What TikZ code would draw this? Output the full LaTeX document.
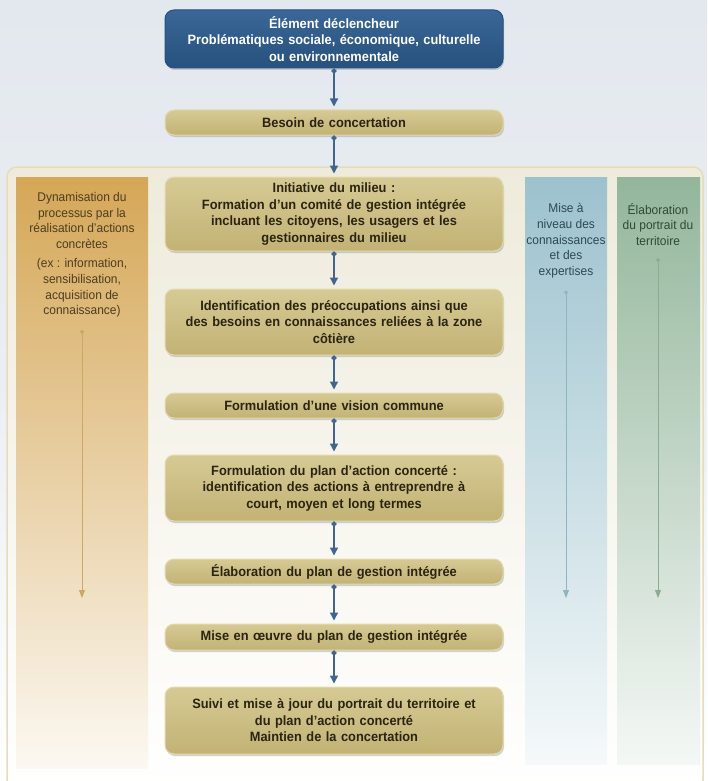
\documentclass[tikz,border=0pt]{standalone}
\usepackage{fontspec}
\setmainfont{Liberation Sans}[FakeStretch=0.95]
\usetikzlibrary{positioning}
\usetikzlibrary{arrows.meta}
\usetikzlibrary{shadows}
\definecolor{skyblue}{HTML}{E3E8EE}
\definecolor{panelfill}{HTML}{EEEBDB}
\definecolor{panelline}{HTML}{E4DDB9}
\definecolor{khakitop}{HTML}{D6CA94}
\definecolor{khakibot}{HTML}{C2B274}
\definecolor{khakiline}{HTML}{E3DAAE}
\definecolor{boxtext}{HTML}{2A2410}
\definecolor{navytop}{HTML}{3A6797}
\definecolor{navybot}{HTML}{27517E}
\definecolor{arrowblue}{HTML}{3E6593}
\definecolor{ochre}{HTML}{D5A757}
\definecolor{ochretext}{HTML}{4C3D22}
\definecolor{ochreline}{HTML}{C9A965}
\definecolor{teal}{HTML}{9CC2CE}
\definecolor{tealtext}{HTML}{2D4956}
\definecolor{tealline}{HTML}{8EB6C2}
\definecolor{sage}{HTML}{93B69B}
\definecolor{sagetext}{HTML}{2E4A36}
\definecolor{sageline}{HTML}{8AAD92}
\tikzset{node distance=37pt,
    stepbox/.style={
        rounded corners=9pt,
        draw=khakiline,
        line width=1pt,
        top color=khakitop,
        bottom color=khakibot,
        text=boxtext,
        font=\bfseries\fontsize{13.5}{16.5}\selectfont,
        minimum width=338pt,
        text width=334pt,
        align=center,
        inner sep=2pt,
        drop shadow={shadow xshift=1pt,shadow yshift=-2pt,opacity=.35}},
    triggerbox/.style={
        stepbox,
        draw=navybot,
        top color=navytop,
        bottom color=navybot,
        text=white},
    colnote/.style={
        font=\fontsize{12.6}{15.8}\selectfont,
        align=center,
        inner sep=0pt},
    every edge/.style={
        draw,
        {Circle[length=5pt]}-{Triangle[width=8pt,length=8pt]},
        shorten >=3pt,
        line width=1.4pt,
        arrowblue},
    colarrow/.style={
        draw,
        {Circle[length=4pt]}-{Triangle[width=6pt,length=8pt]},
        line width=0.8pt}}

\begin{document}
\begin{tikzpicture}[x=1pt,y=-1pt]
    \useasboundingbox (0,0) rectangle (707,781);
    % background and panel
    \fill[top color=skyblue,bottom color=white,middle color=skyblue!70] (0,0) rectangle (707,781);
    \fill[rounded corners=10pt,top color=panelfill,bottom color=white,draw=panelline,line width=1.5pt]
        (7,167) rectangle (703,790);
    % side columns
    \fill[top color=ochre,bottom color=ochre!8] (16,177) rectangle (148,768);
    \fill[top color=teal,bottom color=teal!10] (525,177) rectangle (607,764);
    \fill[top color=sage,bottom color=sage!10] (617,177) rectangle (700,764);

    \node[triggerbox,minimum height=58pt] (trigger) at (334,39)
        {Élément déclencheur\\Problématiques sociale, économique, culturelle\\ou environnementale};
    \node[stepbox,minimum height=25pt,below=41pt of trigger] (need) {Besoin de concertation};
    \node[stepbox,minimum height=74pt,below=41pt of need] (committee)
        {Initiative du milieu :\\Formation d'un comité de gestion intégrée\\incluant les citoyens, les usagers et les\\gestionnaires du milieu};
    \node[stepbox,minimum height=66pt,below=37pt of committee] (concerns)
        {Identification des préoccupations ainsi que\\des besoins en connaissances reliées à la zone\\côtière};
    \node[stepbox,minimum height=25pt,below=37pt of concerns] (vision) {Formulation d'une vision commune};
    \node[stepbox,minimum height=66pt,below=36pt of vision] (actionplan)
        {Formulation du plan d'action concerté :\\identification des actions à entreprendre à\\court, moyen et long termes};
    \node[stepbox,minimum height=25pt,below=37pt of actionplan] (drafting) {Élaboration du plan de gestion intégrée};
    \node[stepbox,minimum height=26pt,below=39pt of drafting] (rollout) {Mise en œuvre du plan de gestion intégrée};
    \node[stepbox,minimum height=67pt,below=36pt of rollout] (followup)
        {Suivi et mise à jour du portrait du territoire et\\du plan d'action concerté\\Maintien de la concertation};

    \draw (trigger.south) edge (need.north);
    \draw (need.south) edge (committee.north);
    \draw (committee.south) edge (concerns.north);
    \draw (concerns.south) edge (vision.north);
    \draw (vision.south) edge (actionplan.north);
    \draw (actionplan.south) edge (drafting.north);
    \draw (drafting.south) edge (rollout.north);
    \draw (rollout.south) edge (followup.north);

    % column labels
    \node[colnote,text=ochretext,anchor=north] (actions) at (82,192)
        {Dynamisation du\\processus par la\\réalisation d'actions\\concrètes\\[3pt](ex : information,\\sensibilisation,\\acquisition de\\connaissance)};
    \node[colnote,text=tealtext,anchor=north] (knowledge) at (566,203)
        {Mise à\\niveau des\\connaissances\\et des\\expertises};
    \node[colnote,text=sagetext,anchor=north] (portrait) at (658,203)
        {Élaboration\\du portrait du\\territoire};
    \coordinate (actionsend) at (82,598);
    \coordinate (knowledgeend) at (566,598);
    \coordinate (portraitend) at (658,598);

    \draw[colarrow,ochreline] ([yshift=-12pt]actions.south) -- (actionsend);
    \draw[colarrow,tealline] ([yshift=-12pt]knowledge.south) -- (knowledgeend);
    \draw[colarrow,sageline] ([yshift=-12pt]portrait.south) -- (portraitend);
\end{tikzpicture}
\end{document}
